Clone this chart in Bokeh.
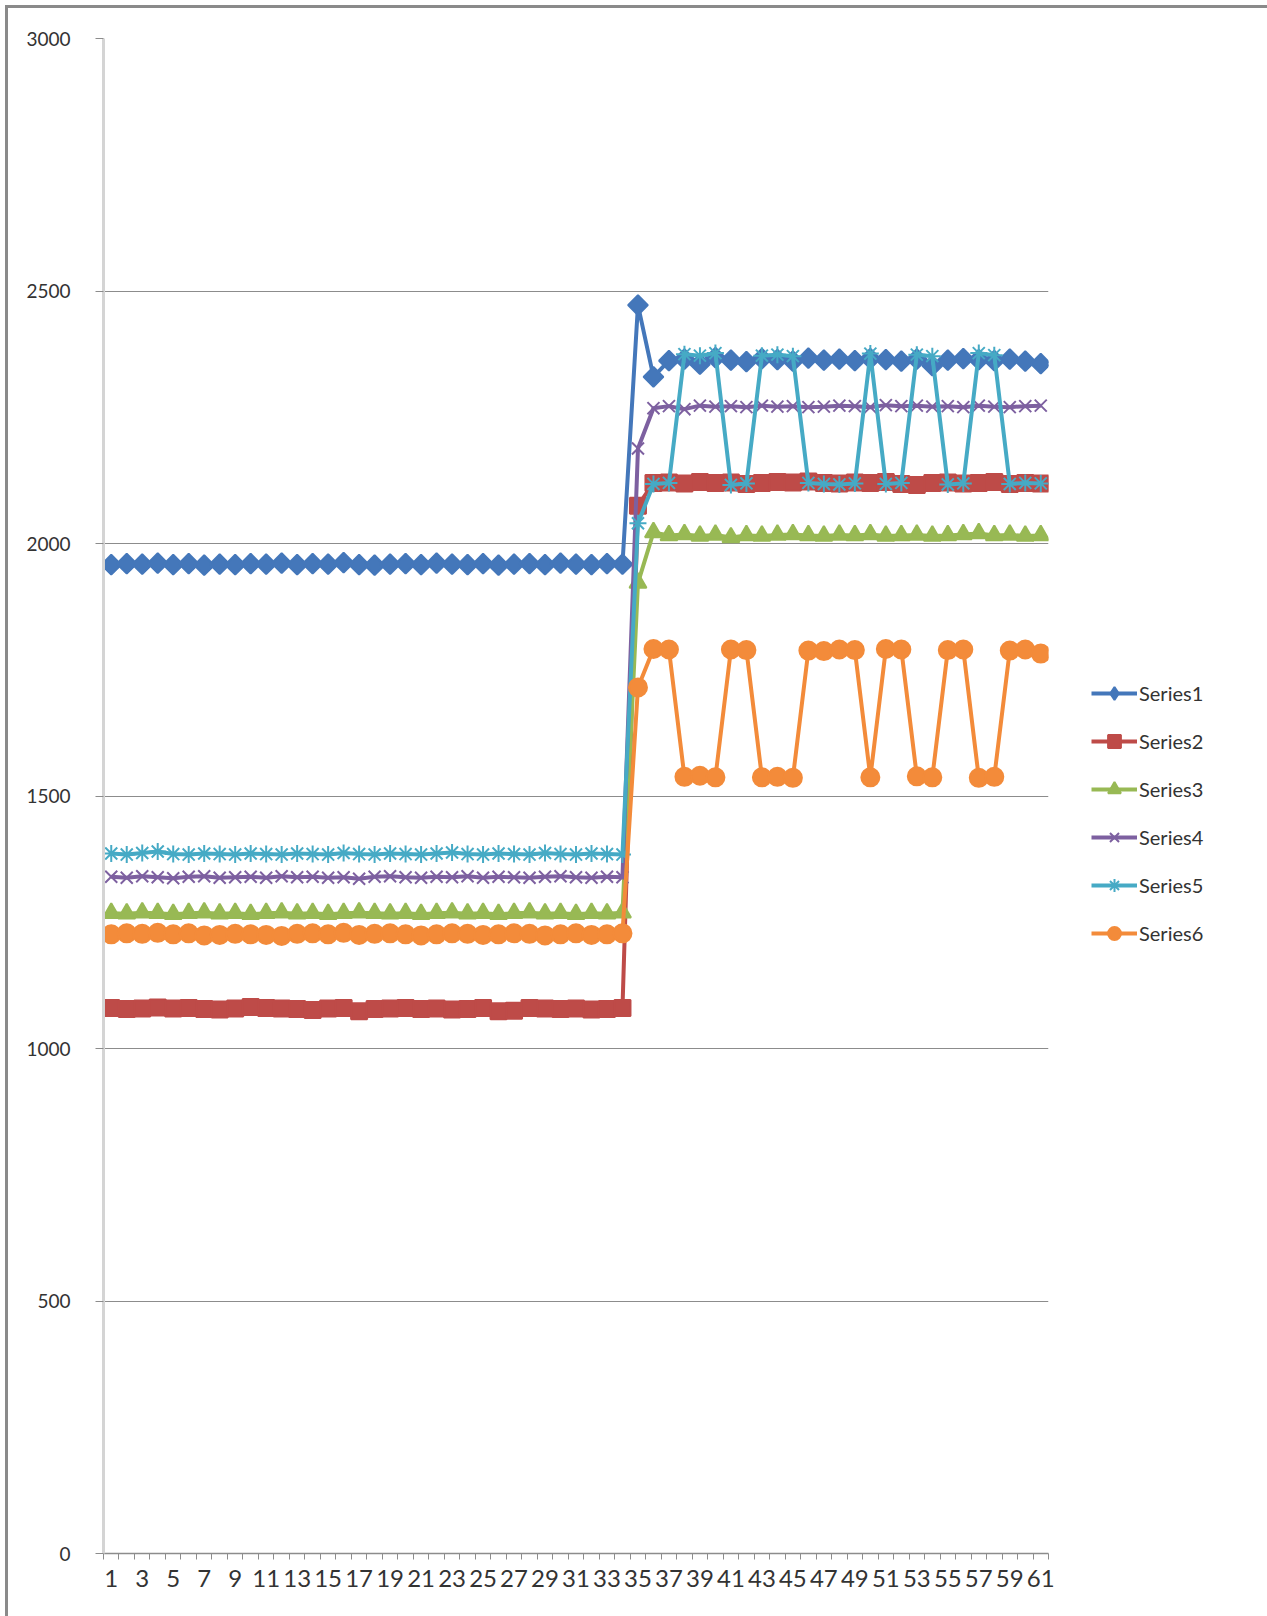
import math

from bokeh.embed import file_html
from bokeh.models import FixedTicker, Legend, LegendItem, Range1d
from bokeh.plotting import figure
from bokeh.resources import INLINE

# ---- data -------------------------------------------------------------
categories = list(range(1, 62))

series1 = [1958, 1960, 1959, 1961, 1958, 1960, 1957, 1959, 1958, 1960,
           1959, 1961, 1958, 1960, 1959, 1962, 1958, 1957, 1959, 1960,
           1958, 1961, 1959, 1958, 1960, 1957, 1959, 1960, 1958, 1961,
           1959, 1958, 1960, 1959,
           2472, 2330,
           2362, 2365, 2355, 2368, 2363, 2360, 2366, 2364, 2361, 2367,
           2363, 2365, 2362, 2366, 2364, 2361, 2365, 2352, 2363, 2366,
           2364, 2362, 2365, 2361, 2356]

series2 = [1080, 1078, 1079, 1081, 1079, 1080, 1078, 1077, 1079, 1082,
           1080, 1079, 1078, 1076, 1079, 1080, 1074, 1078, 1079, 1080,
           1078, 1079, 1077, 1078, 1080, 1074, 1075, 1080, 1079, 1078,
           1079, 1077, 1078, 1080,
           2075,
           2120, 2121, 2119, 2122, 2120, 2121, 2118, 2120, 2122, 2121,
           2123, 2120, 2119, 2121, 2120, 2122, 2118, 2116, 2120, 2121,
           2119, 2120, 2122, 2118, 2120, 2119]

series3 = [1268, 1267, 1269, 1268, 1266, 1268, 1269, 1267, 1268, 1266,
           1268, 1269, 1267, 1268, 1266, 1268, 1269, 1268, 1267, 1268,
           1266, 1268, 1269, 1267, 1268, 1266, 1268, 1269, 1267, 1268,
           1266, 1268, 1267, 1269,
           1922,
           2022, 2016, 2018, 2015, 2017, 2012, 2016, 2015, 2017, 2018,
           2016, 2015, 2017, 2016, 2018, 2015, 2016, 2017, 2015, 2016,
           2018, 2020, 2016, 2017, 2015, 2016]

series4 = [1340, 1338, 1341, 1339, 1337, 1340, 1341, 1338, 1339, 1340,
           1338, 1341, 1339, 1340, 1338, 1339, 1336, 1340, 1341, 1339,
           1338, 1340, 1339, 1341, 1338, 1340, 1339, 1338, 1340, 1341,
           1339, 1338, 1340, 1339,
           2188,
           2268, 2272, 2266, 2273, 2271, 2272, 2270, 2273, 2271, 2272,
           2270, 2271, 2273, 2272, 2270, 2274, 2272, 2273, 2271, 2272,
           2270, 2273, 2271, 2270, 2272, 2273]

series5 = [1386, 1384, 1387, 1390, 1385, 1384, 1386, 1385, 1384, 1386,
           1385, 1384, 1386, 1385, 1384, 1387, 1385, 1384, 1386, 1385,
           1384, 1386, 1388, 1385, 1384, 1386, 1385, 1384, 1387, 1385,
           1384, 1386, 1385, 1384,
           2040,
           2118, 2120, 2375, 2372, 2377, 2116, 2119, 2372, 2374, 2371,
           2120, 2118, 2117, 2119, 2376, 2118, 2120, 2374, 2371, 2117,
           2119, 2377, 2373, 2118, 2120, 2119]

series6 = [1226, 1228, 1227, 1229, 1226, 1228, 1224, 1225, 1227, 1226,
           1225, 1223, 1227, 1228, 1226, 1229, 1225, 1227, 1228, 1226,
           1224, 1226, 1228, 1227, 1225, 1226, 1228, 1227, 1224, 1226,
           1228, 1225, 1226, 1228,
           1715,
           1791, 1790, 1538, 1540, 1537, 1790, 1789, 1537, 1538, 1536,
           1788, 1787, 1790, 1789, 1537, 1791, 1790, 1539, 1537, 1789,
           1790, 1536, 1538, 1788, 1790, 1782]

series_names = ["Series1", "Series2", "Series3", "Series4", "Series5", "Series6"]
y_ticks = [0, 500, 1000, 1500, 2000, 2500, 3000]
x_ticks = [c for c in categories if c % 2 == 1]

# ---- styling ----------------------------------------------------------
colors = ["#4477BA", "#BE4B48", "#98B954", "#7D60A0", "#46AAC5", "#F38B3A"]
# Series1 uses a square turned 45 degrees so the diamond is as wide as tall
markers = ["square", "square", "triangle", "x", "asterisk", "circle"]
marker_sizes = [14, 16, 17, 17, 17, 18]
marker_angles = [math.pi / 4, 0, 0, 0, 0, 0]
legend_markers = ["diamond", "square", "triangle", "x", "asterisk", "circle"]
FONT = "Lato"
GRID = "#8C8C8C"

p = figure(
    frame_width=945, frame_height=1515,
    min_border_left=95, min_border_right=214,
    min_border_top=30, min_border_bottom=63,
    x_range=Range1d(0.5, 61.5), y_range=Range1d(0, 3000),
    output_backend="svg", toolbar_location=None,
    background_fill_color="white", border_fill_color="white",
)
p.outline_line_color = None
p.styles = {
    "margin-left": "5px", "margin-top": "5px",
    "border-left": "3px solid #8A8A8A",
    "border-top": "3px solid #8A8A8A",
    "border-right": "3px solid #8A8A8A",
}

# category axis: labels on odd categories, tick marks between categories
p.xaxis.ticker = FixedTicker(ticks=x_ticks,
                             minor_ticks=[c - 0.5 for c in categories] + [61.5])
p.xaxis.major_tick_out = 0
p.xaxis.major_tick_in = 0
p.xaxis.minor_tick_out = 6
p.xaxis.minor_tick_in = 0
p.xaxis.minor_tick_line_color = GRID
p.xaxis.axis_line_color = GRID
p.xaxis.axis_line_width = 1.5
p.xaxis.major_label_text_font = FONT
p.xaxis.major_label_text_font_size = "24px"
p.xaxis.major_label_text_color = "#333333"
p.xaxis.major_label_standoff = 10

p.yaxis.ticker = FixedTicker(ticks=y_ticks)
p.yaxis.minor_tick_out = 0
p.yaxis.minor_tick_in = 0
p.yaxis.major_tick_in = 0
p.yaxis.major_tick_out = 8
p.yaxis.major_tick_line_color = GRID
p.yaxis.axis_line_color = "#D4D4D4"
p.yaxis.axis_line_width = 3
p.yaxis.major_label_text_font = FONT
p.yaxis.major_label_text_font_size = "19px"
p.yaxis.major_label_text_color = "#333333"
p.yaxis.major_label_standoff = 25

p.xgrid.grid_line_color = None
p.ygrid.grid_line_color = GRID
p.ygrid.grid_line_width = 1

all_series = [series1, series2, series3, series4, series5, series6]
items = []
for i, (name, ys, col) in enumerate(zip(series_names, all_series, colors)):
    ln = p.line(categories, ys, line_color=col, line_width=4)
    p.scatter(categories, ys, marker=markers[i], size=marker_sizes[i],
              angle=marker_angles[i], fill_color=col, line_color=col,
              line_width=2)
    # legend swatch: an unrotated marker (legend glyphs ignore angle)
    key = p.scatter(categories, ys, marker=legend_markers[i], size=13,
                    fill_color=col, line_color=col, line_width=2,
                    visible=False)
    items.append(LegendItem(label=name, renderers=[ln, key]))

legend = Legend(
    items=items, location=(43, 604), orientation="vertical",
    glyph_width=46, glyph_height=32, label_height=20, spacing=16,
    padding=10, margin=0, border_line_color=None,
    background_fill_alpha=0,
    label_text_font=FONT, label_text_font_size="20px",
    label_text_color="#333333", label_standoff=2,
)
p.add_layout(legend, "right")

open("out.html", "w").write(file_html(p, INLINE))
